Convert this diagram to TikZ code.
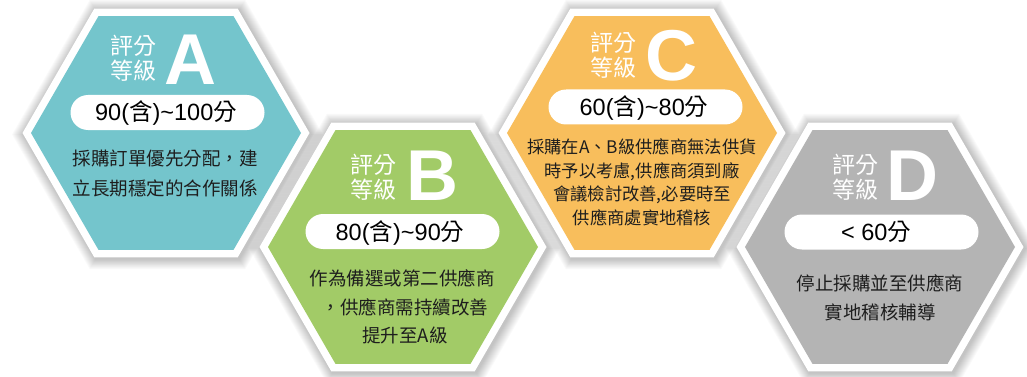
\documentclass[tikz,border=0pt]{standalone}
\usepackage{fontspec}
\setmainfont{Liberation Sans}
\newfontfamily\cjk{Noto Sans CJK TC}
\definecolor{cA}{HTML}{74C5CC}
\definecolor{cB}{HTML}{A2CB67}
\definecolor{cC}{HTML}{F8BE5C}
\definecolor{cD}{HTML}{B4B4B4}
\definecolor{txt}{HTML}{1E1E1E}
\newcommand\hexat[3]{(#1+#3,#2) -- ++(120:#3) -- ++(180:#3) -- ++(240:#3) -- ++(300:#3) -- ++(0:#3) -- cycle}
\begin{document}
\begin{tikzpicture}[x=1pt,y=-1pt,
  lbl/.style={anchor=base,inner sep=0pt,text=white,font=\cjk\fontsize{23}{23}\selectfont},
  letter/.style={anchor=base,inner sep=0pt,text=white,font=\fontsize{72}{72}\bfseries\selectfont},
  pill/.style={fill=white,rounded corners=17.5pt,minimum width=194pt,minimum height=35pt,inner sep=0pt},
  score/.style={anchor=base,inner sep=0pt,text=black,font=\fontsize{23.5}{23.5}\selectfont},
  desc/.style={anchor=base,inner sep=0pt,text=txt,font=\cjk\fontsize{18.5}{18.5}\selectfont},
  descc/.style={anchor=base,inner sep=0pt,text=txt,font=\cjk\fontsize{17.3}{17.3}\selectfont}]
\fill[white] (0,0) rectangle (1027,377);
\useasboundingbox (0,0) rectangle (1027,377);
% shadows
\foreach \cx/\cy in {166/133,403/247,642/133,880/247}{
  \foreach \i in {1,...,12}{
    \fill[black,opacity=0.018] \hexat{\cx+1.5}{\cy+1.5}{143.5+\i};
  }
}
% white borders
\foreach \cx/\cy in {166/133,403/247,642/133,880/247}{
  \fill[white] \hexat{\cx}{\cy}{143.5};
}
% coloured hexagons
\foreach \cx/\cy/\col in {166/133/cA,403/247/cB,642/133/cC,880/247/cD}{
  \fill[\col] \hexat{\cx}{\cy}{135};
}
% ---- A
\node[lbl] (a1) at (133,54.7) {評分};
\node[lbl] (a2) at (133,79.7) {等級};
\node[letter] (aL) at (190,85) {A};
\node[pill] (aP) at (167.5,112.5) {};
\node[score] (aS) at (166,121) {90({\cjk 含})\textasciitilde100{\cjk 分}};
\node[desc] (aD1) at (165,165) {採購訂單優先分配，建};
\node[desc] (aD2) at (165,195) {立長期穩定的合作關係};
% ---- B
\node[lbl] (b1) at (373,173.7) {評分};
\node[lbl] (b2) at (373,198.7) {等級};
\node[letter] (bL) at (432,200) {B};
\node[pill] (bP) at (402.5,231.5) {};
\node[score] (bS) at (400,240) {80({\cjk 含})\textasciitilde90{\cjk 分}};
\node[desc] (bD1) at (402,285) {作為備選或第二供應商};
\node[desc] (bD2) at (405,314) {，供應商需持續改善};
\node[desc] (bD3) at (405,342) {提升至A級};
% ---- C
\node[lbl] (c1) at (613.5,51.7) {評分};
\node[lbl] (c2) at (613.5,76.7) {等級};
\node[letter] (cL) at (671,81) {C};
\node[pill] (cP) at (645.5,107) {};
\node[score] (cS) at (644,115.5) {60({\cjk 含})\textasciitilde80{\cjk 分}};
\node[descc] (cD1) at (642,153.7) {採購在A、B級供應商無法供貨};
\node[descc] (cD2) at (642,177.2) {時予以考慮,供應商須到廠};
\node[descc] (cD3) at (642,200.7) {會議檢討改善,必要時至};
\node[descc] (cD4) at (642,224.2) {供應商處實地稽核};
% ---- D
\node[lbl] (d1) at (855,173.7) {評分};
\node[lbl] (d2) at (855,198.7) {等級};
\node[letter] (dL) at (912.5,200) {D};
\node[pill] (dP) at (881.5,232) {};
\node[score] (dS) at (876,240.5) {\textless{} 60{\cjk 分}};
\node[desc] (dD1) at (880,290) {停止採購並至供應商};
\node[desc] (dD2) at (880,319) {實地稽核輔導};
\end{tikzpicture}
\end{document}
